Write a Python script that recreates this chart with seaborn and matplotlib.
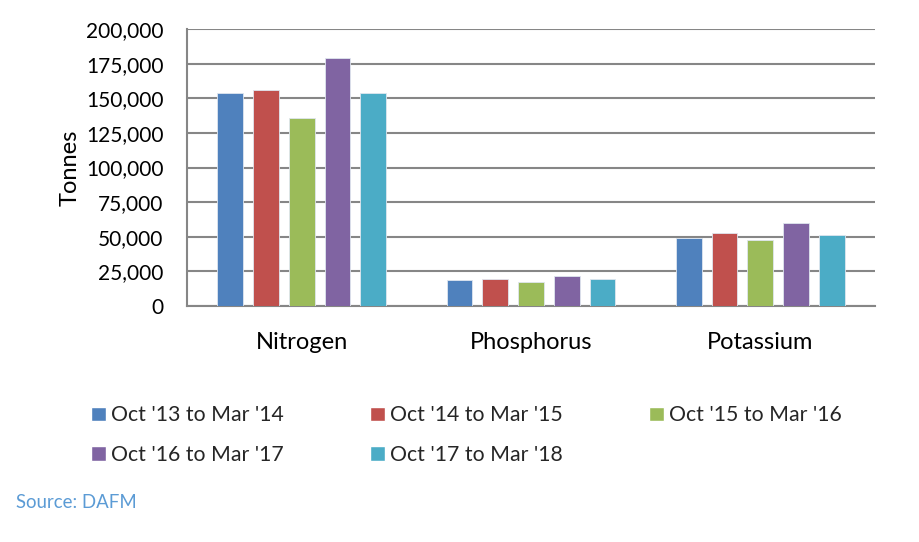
import numpy as np
import pandas as pd
import seaborn as sns
import matplotlib.pyplot as plt
from matplotlib.ticker import FuncFormatter, FixedLocator
from matplotlib.patches import Patch

nutrients = ['Nitrogen', 'Phosphorus', 'Potassium']
periods = ["Oct '13 to Mar '14", "Oct '14 to Mar '15", "Oct '15 to Mar '16",
           "Oct '16 to Mar '17", "Oct '17 to Mar '18"]
oct13 = [154000, 18500, 49300]
oct14 = [156000, 19700, 52400]
oct15 = [136000, 17600, 47400]
oct16 = [179000, 21900, 59600]
oct17 = [154000, 19200, 51400]
colors = ['#4F81BD', '#C0504D', '#9BBB59', '#8064A2', '#4BACC6']

rows = []
for p, vals in zip(periods, [oct13, oct14, oct15, oct16, oct17]):
    for n, v in zip(nutrients, vals):
        rows.append({'nutrient': n, 'period': p, 'tonnes': v})
df = pd.DataFrame(rows)

sns.set_style('white')
plt.rcParams['font.family'] = ['Lato', 'DejaVu Sans']

fig = plt.figure(figsize=(9.19, 5.42), dpi=100)
ax = fig.add_axes([0.2035, 0.4354, 0.7485, 0.5111])

sns.barplot(data=df, x='nutrient', y='tonnes', hue='period', order=nutrients,
            hue_order=periods, palette=colors, width=0.78, gap=0.28,
            saturation=1, edgecolor='#dfe6ef', linewidth=0.6, ax=ax,
            legend=False, zorder=3)

ax.set_ylim(0, 200000)
ax.set_xlim(-0.5, 2.5)
ax.set_yticks(np.arange(0, 200001, 25000))
ax.yaxis.set_major_formatter(FuncFormatter(lambda v, _: f'{int(v):,}'))
ax.grid(axis='y', color='#868686', lw=1.5, zorder=0)
ax.set_axisbelow(True)

ax.xaxis.set_minor_locator(FixedLocator([-0.5, 0.5, 1.5, 2.5]))
ax.tick_params(axis='x', which='major', length=0, pad=19, labelsize=17,
               labelcolor='black')
ax.tick_params(axis='x', which='minor', length=6, width=1.5, color='#868686',
               direction='out')
ax.tick_params(axis='y', length=6, width=1.5, color='#868686', direction='out',
               pad=11, labelsize=15, labelcolor='black')

for s in ['top', 'right']:
    ax.spines[s].set_visible(False)
for s in ['left', 'bottom']:
    ax.spines[s].set_color('#868686')
    ax.spines[s].set_linewidth(1.5)

ax.set_xlabel('')
ax.set_ylabel('Tonnes', fontsize=17, labelpad=4, color='black')

handles = [Patch(facecolor=c, label=p) for c, p in zip(colors, periods)]
order = [0, 3, 1, 4, 2]
fig.legend([handles[i] for i in order], [periods[i] for i in order],
           ncol=3, loc='upper left', bbox_to_anchor=(0.099, 0.252),
           frameon=False, fontsize=15.3, handlelength=0.7, handleheight=0.7,
           handletextpad=0.25, columnspacing=4.05, labelspacing=0.9,
           borderaxespad=0, borderpad=0)

fig.text(0.017, 0.073, 'Source: DAFM', color='#5B9BD5', fontsize=13.4,
         ha='left', va='center')

fig.savefig('out.png', dpi=100)
